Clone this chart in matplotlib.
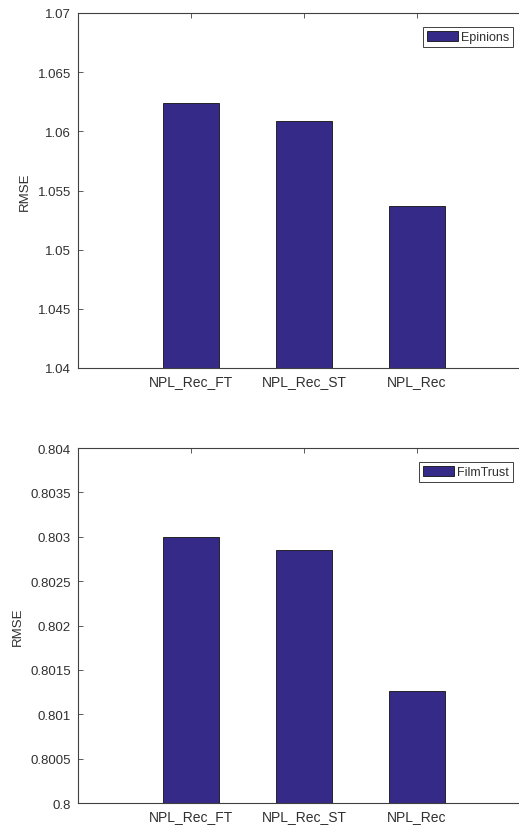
import matplotlib.pyplot as plt

# data
methods = ['NPL_Rec_FT', 'NPL_Rec_ST', 'NPL_Rec']
epinions_rmse = [1.0624, 1.0609, 1.0537]
filmtrust_rmse = [0.80300, 0.80285, 0.80126]

epinions_ticks = [1.04, 1.045, 1.05, 1.055, 1.06, 1.065, 1.07]
epinions_ticklabels = ['1.04', '1.045', '1.05', '1.055', '1.06', '1.065', '1.07']
filmtrust_ticks = [0.8, 0.8005, 0.801, 0.8015, 0.802, 0.8025, 0.803, 0.8035, 0.804]
filmtrust_ticklabels = ['0.8', '0.8005', '0.801', '0.8015', '0.802', '0.8025', '0.803', '0.8035', '0.804']

plt.rcParams['font.family'] = ['Liberation Sans', 'DejaVu Sans']

W, H = 519, 829
BAR = '#352A87'
DARK = '#303030'
AX = '#404040'

fig = plt.figure(figsize=(W / 100, H / 100), dpi=100)


# one panel, pixel box given as left, top, right, bottom
def panel(box, values, ticks, ticklabels, ylim, name):
    l, t, r, b = box
    ax = fig.add_axes([l / W, 1 - b / H, (r - l) / W, (b - t) / H])
    pos = [1, 2, 3]
    ax.bar(pos, values, width=0.5, color=BAR, edgecolor='#111111',
           linewidth=0.6, label=name, zorder=2)
    ax.set_xlim(0, 4)
    ax.set_ylim(*ylim)
    ax.set_xticks(pos)
    ax.set_xticklabels(methods)
    ax.set_yticks(ticks)
    ax.set_yticklabels(ticklabels)
    ax.tick_params(direction='in', length=3.5, width=0.6, colors=AX,
                   labelcolor=DARK, labelsize=9.5, top=True, right=True, pad=5)
    ax.tick_params(axis='x', pad=4, labelsize=10)
    for s in ax.spines.values():
        s.set_color(AX)
        s.set_linewidth(0.8)
    ax.set_ylabel('RMSE', fontsize=9.5, color=DARK, labelpad=5)
    leg = ax.legend(loc='upper right', bbox_to_anchor=(513 / W, 1 - (t + 14) / H),
                    bbox_transform=fig.transFigure, fancybox=False, framealpha=1,
                    edgecolor=AX, fontsize=9, borderpad=0.3, borderaxespad=0,
                    handlelength=2.5, handleheight=0.9, handletextpad=0.25)
    leg.get_frame().set_linewidth(0.7)
    for txt in leg.get_texts():
        txt.set_color(DARK)
    return ax


panel((78, 14, 530, 369), epinions_rmse, epinions_ticks, epinions_ticklabels,
      (1.04, 1.07), 'Epinions')
panel((78, 449, 530, 804), filmtrust_rmse, filmtrust_ticks, filmtrust_ticklabels,
      (0.8, 0.804), 'FilmTrust')

fig.savefig('out.png', dpi=100)
